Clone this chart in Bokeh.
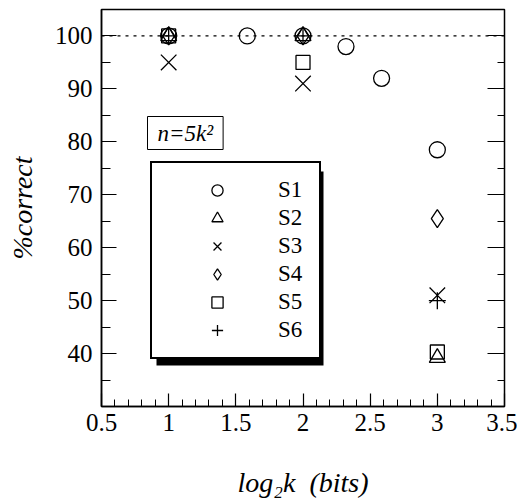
from bokeh.plotting import figure
from bokeh.models import (Legend, LegendItem, Span, BoxAnnotation, Label, LinearAxis,
                          FixedTicker, NumeralTickFormatter, Range1d)
from bokeh.embed import file_html
from bokeh.resources import INLINE

# ---- data (log2 k, % correct) ----
s1_x = [1, 1.585, 2, 2.32, 2.585, 3]
s1_y = [100, 100, 100, 98, 92, 78.5]
s2_x = [1, 2, 3]
s2_y = [100, 100, 39.2]
s3_x = [1, 2, 3]
s3_y = [95, 91, 51]
s4_x = [1, 2, 3]
s4_y = [100, 100, 65.5]
s5_x = [1, 2, 3]
s5_y = [100, 95, 40.3]
s6_x = [1, 2, 3]
s6_y = [100, 100, 50]

x_major = [0.5, 1, 1.5, 2, 2.5, 3, 3.5]
x_minor = [round(0.5 + 0.1 * i, 1) for i in range(31)]
y_major = [40, 50, 60, 70, 80, 90, 100]
y_minor = [35, 45, 55, 65, 75, 85, 95]

SERIF = "Liberation Serif"

p = figure(width=517, height=501, output_backend="svg", toolbar_location=None,
           x_range=Range1d(0.5, 3.5), y_range=Range1d(30, 105),
           min_border_left=101, min_border_right=13, min_border_top=9, min_border_bottom=95)
p.background_fill_color = "white"
p.border_fill_color = "white"
p.grid.visible = False
p.outline_line_color = "black"
p.outline_line_width = 1.5

for ax in (p.xaxis[0], p.yaxis[0]):
    ax.axis_line_color = "black"
    ax.axis_line_width = 1.5
    ax.major_tick_out = 0
    ax.minor_tick_out = 0
    ax.major_tick_line_color = "black"
    ax.minor_tick_line_color = "black"
    ax.major_tick_line_width = 1.2
    ax.minor_tick_line_width = 1.0
    ax.major_label_text_font = SERIF
    ax.major_label_text_font_size = "25px"
    ax.major_label_text_color = "black"
    ax.axis_label_text_font = SERIF
    ax.axis_label_text_font_style = "italic"
    ax.axis_label_text_color = "black"

p.xaxis[0].ticker = FixedTicker(ticks=x_major, minor_ticks=x_minor)
p.xaxis[0].formatter = NumeralTickFormatter(format="0.[0]")
p.xaxis[0].major_tick_in = 13
p.xaxis[0].minor_tick_in = 7
p.xaxis[0].major_label_standoff = 7
p.xaxis[0].axis_label = "log\u2082k\u00a0\u00a0(bits)"
p.xaxis[0].axis_label_text_font_size = "28px"
p.xaxis[0].axis_label_standoff = 33

p.yaxis[0].ticker = FixedTicker(ticks=y_major, minor_ticks=y_minor)
p.yaxis[0].major_tick_in = 15
p.yaxis[0].minor_tick_in = 9
p.yaxis[0].major_label_standoff = 9
p.yaxis[0].axis_label = "%correct"
p.yaxis[0].axis_label_text_font_size = "28px"
p.yaxis[0].axis_label_standoff = 14

right = LinearAxis(ticker=FixedTicker(ticks=y_major, minor_ticks=y_minor))
right.major_label_text_font_size = "0px"
right.major_label_standoff = 0
right.axis_line_color = None
right.major_tick_in = 17
right.major_tick_out = 0
right.minor_tick_in = 7
right.minor_tick_out = 0
right.major_tick_line_color = "black"
right.minor_tick_line_color = "black"
p.add_layout(right, "right")

p.add_layout(Span(location=100, dimension="width", line_color="black",
                  line_width=1.2, line_dash="3 5"))

common = dict(line_color="black", fill_color=None, line_width=1.3)
r1 = p.scatter(s1_x, s1_y, marker="circle", size=16, **common)
r2 = p.scatter(s2_x, s2_y, marker="triangle", size=16, **common)
r3 = p.scatter(s3_x, s3_y, marker="x", size=22, **common)
r4 = p.scatter(s4_x, s4_y, marker="diamond", size=18, **common)
r5 = p.scatter(s5_x, s5_y, marker="square", size=14, **common)
r6 = p.scatter(s6_x, s6_y, marker="cross", size=17, **common)

# legend geometry (screen px)
FW, FH = 403.0, 397.0
sx = FW / 3.0
sy = FH / 75.0
leg_x, leg_y = 49, 47
pad, gw, gh, lw, ls, sp = 13, 104, 28, 28, 9, 0
leg_w = 2 * pad + gw + ls + lw
leg_h = 2 * pad + 6 * gh + 5 * sp
sh = 6
p.add_layout(BoxAnnotation(left=0.5 + (leg_x + sh) / sx, right=0.5 + (leg_x + leg_w + sh) / sx,
                           bottom=30 + (leg_y - sh) / sy, top=30 + (leg_y + leg_h - sh) / sy,
                           fill_color="black", fill_alpha=1.0, line_color=None))

legend = Legend(items=[LegendItem(label="S1", renderers=[r1]),
                       LegendItem(label="S2", renderers=[r2]),
                       LegendItem(label="S3", renderers=[r3]),
                       LegendItem(label="S4", renderers=[r4]),
                       LegendItem(label="S5", renderers=[r5]),
                       LegendItem(label="S6", renderers=[r6])],
                location=(leg_x, leg_y), padding=pad, spacing=sp, margin=0,
                glyph_width=gw, glyph_height=gh, label_width=lw, label_height=gh,
                label_standoff=ls, label_text_font=SERIF, label_text_font_size="23px",
                label_text_color="black", border_line_color="black", border_line_width=2,
                border_line_alpha=1.0,
                background_fill_color="white", background_fill_alpha=1.0)
p.add_layout(legend, "center")

p.add_layout(Label(x=0.5 + 46 / sx, y=30 + 257 / sy, text="n=5k\u00b2",
                   text_font=SERIF, text_font_style="italic", text_font_size="23px",
                   text_color="black", text_align="left", text_baseline="bottom",
                   padding=dict(top=4, bottom=4, left=10, right=10),
                   border_line_color="black", border_line_width=1,
                   background_fill_color="white"))

open("out.html", "w").write(file_html(p, INLINE))
